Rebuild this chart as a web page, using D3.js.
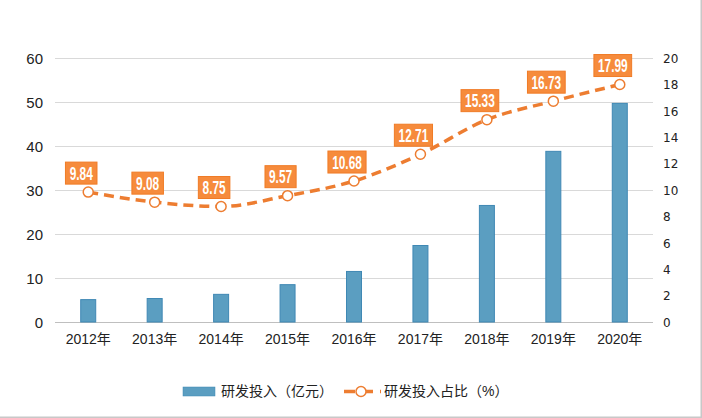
<!DOCTYPE html>
<html><head><meta charset="utf-8">
<script src="https://cdn.jsdelivr.net/npm/d3@7"></script>
<style>
html,body{margin:0;padding:0;background:#fff;}
svg{display:block;}
</style>
</head><body>
<script>
const categories = ["2012年","2013年","2014年","2015年","2016年","2017年","2018年","2019年","2020年"];
const rdInvest = [5.2, 5.45, 6.4, 8.6, 11.6, 17.5, 26.6, 38.9, 49.8];
const rdRatio = [9.84, 9.08, 8.75, 9.57, 10.68, 12.71, 15.33, 16.73, 17.99];
const leftTicks = [0,10,20,30,40,50,60];
const rightTicks = [0,2,4,6,8,10,12,14,16,18,20];
const legendLabels = ["研发投入（亿元）","研发投入占比（%）"];

const W = 702, H = 418;
const font = "'Liberation Sans','Noto Sans CJK SC',sans-serif";
const svg = d3.select("body").append("svg").attr("width", W).attr("height", H);

// border / shadow
svg.append("line").attr("x1",0).attr("x2",W).attr("y1",H-0.5).attr("y2",H-0.5).attr("stroke","#c8c8c8").attr("stroke-width",2);
svg.append("line").attr("x1",W-0.5).attr("x2",W-0.5).attr("y1",0).attr("y2",H).attr("stroke","#c8c8c8").attr("stroke-width",2);

const x = d3.scaleBand().domain(categories).range([55, 653]).paddingInner(0).paddingOuter(0);
const yL = d3.scaleLinear().domain([0,60]).range([322, 58]);
const yR = d3.scaleLinear().domain([0,20]).range([322, 58]);

// gridlines
svg.append("g").selectAll("line").data(leftTicks).join("line")
  .attr("x1",55).attr("x2",653)
  .attr("y1",d=>Math.round(yL(d))+0.5).attr("y2",d=>Math.round(yL(d))+0.5)
  .attr("stroke",d=>d===0?"#bfbfbf":"#d9d9d9").attr("stroke-width",1);

// left axis labels
const axL = d3.axisLeft(yL).tickValues(leftTicks).tickSize(0).tickPadding(0);
const gL = svg.append("g").attr("transform","translate(43,0)").call(axL);
gL.select(".domain").remove();
gL.selectAll("text").attr("font-family",font).attr("font-size",15).attr("fill","#222").attr("dy","0.35em");

// right axis labels
const axR = d3.axisRight(yR).tickValues(rightTicks).tickSize(0).tickPadding(0);
const gR = svg.append("g").attr("transform","translate(663,0)").call(axR);
gR.select(".domain").remove();
gR.selectAll("text").attr("font-family","'DejaVu Sans',sans-serif").attr("font-size",12).attr("fill","#222").attr("dy","0.35em");

// x axis labels
const axX = d3.axisBottom(x).tickSize(0).tickPadding(0);
const gX = svg.append("g").attr("transform","translate(0,334)").call(axX);
gX.select(".domain").remove();
gX.selectAll("text").attr("font-family",font).attr("font-size",14).attr("fill","#222").attr("dy","0.71em");

// bars
const bw = 16;
svg.append("g").selectAll("rect").data(rdInvest).join("rect")
  .attr("x",(d,i)=>x(categories[i])+x.bandwidth()/2-bw/2+0.5)
  .attr("y",d=>yL(d)+0.5)
  .attr("width",bw-1)
  .attr("height",d=>yL(0)-yL(d)-0.5)
  .attr("fill","#5b9ec1").attr("stroke","#3f88b4").attr("stroke-width",1);

// line
const orange = "#ed7d31";
const line = d3.line().x((d,i)=>x(categories[i])+x.bandwidth()/2).y(d=>yR(d)).curve(d3.curveMonotoneX);
svg.append("path").datum(rdRatio).attr("d",line).attr("fill","none")
  .attr("stroke",orange).attr("stroke-width",3.5).attr("stroke-dasharray","10,6");
svg.append("g").selectAll("circle").data(rdRatio).join("circle")
  .attr("cx",(d,i)=>x(categories[i])+x.bandwidth()/2).attr("cy",d=>yR(d)).attr("r",5)
  .attr("fill","#fff").attr("stroke",orange).attr("stroke-width",1.5);

// data labels
const sx = 0.66;
const lbl = svg.append("g").selectAll("g").data(rdRatio).join("g")
  .attr("transform",(d,i)=>`translate(${x(categories[i])+x.bandwidth()/2-7},${yR(d)-19})`);
lbl.append("text").text(d=>d.toFixed(2))
  .attr("text-anchor","middle").attr("dy","0.36em")
  .attr("transform",`scale(${sx},1)`)
  .attr("font-family","'Liberation Sans',sans-serif")
  .attr("font-weight","bold").attr("font-size",18).attr("fill","#fff")
  .each(function(){
    const bb = this.getBBox();
    const w = bb.width*sx+8;
    d3.select(this.parentNode).insert("rect","text")
      .attr("x",-w/2).attr("y",-11).attr("width",w).attr("height",22)
      .attr("fill","#f68b3c").attr("stroke","#f07b26").attr("stroke-width",1);
  });

// legend
const lg = svg.append("g");
lg.append("rect").attr("x",183).attr("y",387).attr("width",32).attr("height",9)
  .attr("fill","#5b9ec1").attr("stroke","#3f88b4").attr("stroke-width",0.5);
lg.append("text").attr("x",221).attr("y",391.5).attr("dy","0.35em").text(legendLabels[0])
  .attr("font-family",font).attr("font-size",14).attr("fill","#222");
lg.append("line").attr("x1",344).attr("x2",381).attr("y1",391.5).attr("y2",391.5)
  .attr("stroke",orange).attr("stroke-width",3.5).attr("stroke-dasharray","11,7");
lg.append("circle").attr("cx",361).attr("cy",391.5).attr("r",5).attr("fill","#fff").attr("stroke",orange).attr("stroke-width",1.5);
lg.append("text").attr("x",384).attr("y",391.5).attr("dy","0.35em").text(legendLabels[1])
  .attr("font-family",font).attr("font-size",14).attr("fill","#222");
</script>
</body></html>
